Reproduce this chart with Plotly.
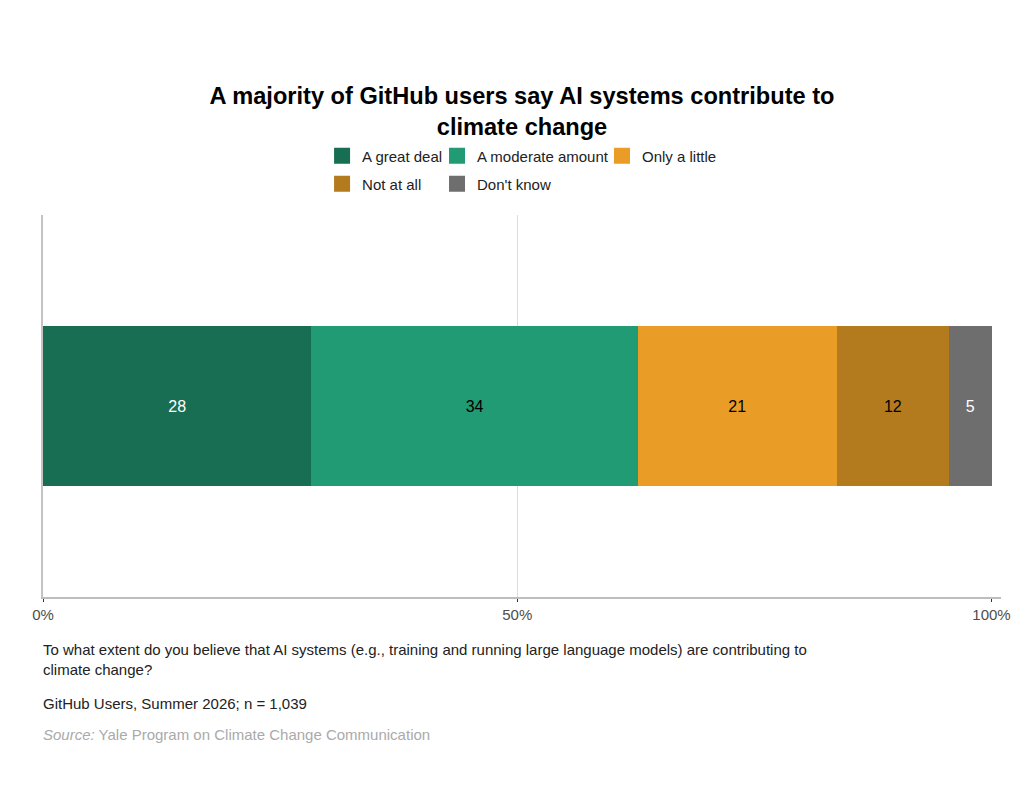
import plotly.graph_objects as go

# survey responses (percent of respondents)
categories = ["A great deal", "A moderate amount", "Only a little", "Not at all", "Don't know"]
values = [28.3, 34.4, 21.0, 11.8, 4.5]
labels = ["28", "34", "21", "12", "5"]
colors = ["#186e52", "#209b73", "#e99d26", "#b47a1e", "#6e6e6e"]
label_colors = ["white", "black", "black", "black", "white"]
# legend laid out in columns like the original
legend_ids = ["legend", "legend2", "legend3", "legend", "legend2"]

row_name = ["GitHub users"]
x_ticks = [0, 50, 100]
x_ticklabels = ["0%", "50%", "100%"]
grid_ticks = [50]

title = "<b>A majority of GitHub users say AI systems contribute to<br>climate change</b>"
question = ("To what extent do you believe that AI systems (e.g., training and running large language models) "
            "are contributing to<br>climate change?")
sample = "GitHub Users, Summer 2026; n = 1,039"
source = "<i>Source:</i> Yale Program on Climate Change Communication"

# page body adds an 8px margin, so the figure is drawn slightly smaller
W, H = 1008, 785

fig = go.Figure()

for name, v, lab, col, tcol in zip(categories, values, labels, colors, label_colors):
    fig.add_trace(go.Bar(
        y=row_name,
        x=[v],
        name=name,
        orientation="h",
        width=0.42,
        marker=dict(color=col, line=dict(width=0)),
        text=[lab],
        textposition="inside",
        insidetextanchor="middle",
        textangle=0,
        textfont=dict(color=tcol, size=16),
        showlegend=False,
        hovertemplate=name + ": %{x:.0f}%<extra></extra>",
    ))

# legend-only entries (bigger square swatches); they sit on the overlay axis x2
for name, col, lg in zip(categories, colors, legend_ids):
    fig.add_trace(go.Scatter(
        x=[None], y=[None],
        xaxis="x2",
        mode="markers",
        name=name,
        legendgroup=name,
        marker=dict(symbol="square", size=16, color=col),
        legend=lg,
        hoverinfo="skip",
    ))

legend_style = dict(
    orientation="v",
    xanchor="left",
    yanchor="middle",
    font=dict(size=15, color="#222222"),
    bgcolor="rgba(0,0,0,0)",
    traceorder="grouped",
    itemsizing="trace",
    tracegroupgap=5.5,
)

fig.update_layout(
    barmode="stack",
    width=W,
    height=H,
    paper_bgcolor="white",
    plot_bgcolor="white",
    font=dict(family="Liberation Sans, Arial, sans-serif", size=15, color="#222222"),
    margin=dict(l=35, r=15, t=207, b=196),
    title=dict(
        text=title,
        x=0.5,
        xref="paper",
        xanchor="center",
        y=1 - 96 / H,
        yref="container",
        yanchor="middle",
        font=dict(size=23.6, color="black"),
    ),
    legend=dict(legend_style, x=0.2913, y=1.1178),
    legend2=dict(legend_style, x=0.4113, y=1.1178),
    legend3=dict(legend_style, x=0.5835, y=1.1545),
    xaxis=dict(
        range=[0, 101],
        tickvals=x_ticks,
        ticktext=x_ticklabels,
        showgrid=False,
        zeroline=False,
        showline=True,
        linecolor="#bdbdbd",
        linewidth=1.5,
        ticks="outside",
        ticklen=3,
        tickcolor="#333333",
        tickfont=dict(size=15, color="#4d4d4d"),
        automargin=False,
        fixedrange=True,
    ),
    # overlay axis only used for the single vertical grid line at 50%
    xaxis2=dict(
        overlaying="x",
        matches="x",
        side="bottom",
        tickvals=grid_ticks,
        showgrid=True,
        gridcolor="#dcdcdc",
        gridwidth=1,
        showticklabels=False,
        ticks="",
        zeroline=False,
        showline=False,
        automargin=False,
        fixedrange=True,
    ),
    yaxis=dict(
        range=[-0.5, 0.5],
        showticklabels=False,
        showgrid=False,
        zeroline=False,
        showline=True,
        linecolor="#c4c4c4",
        linewidth=1.5,
        automargin=False,
        fixedrange=True,
    ),
    annotations=[
        dict(text=question, x=-0.002, y=-0.1106, xref="paper", yref="paper",
             xanchor="left", yanchor="top", align="left", showarrow=False,
             font=dict(size=15, color="#222222")),
        dict(text=sample, x=-0.002, y=-0.2520, xref="paper", yref="paper",
             xanchor="left", yanchor="top", align="left", showarrow=False,
             font=dict(size=15, color="#222222")),
        dict(text=source, x=-0.002, y=-0.3331, xref="paper", yref="paper",
             xanchor="left", yanchor="top", align="left", showarrow=False,
             font=dict(size=15, color="#aaaaaa")),
    ],
)

fig.write_html("out.html")
